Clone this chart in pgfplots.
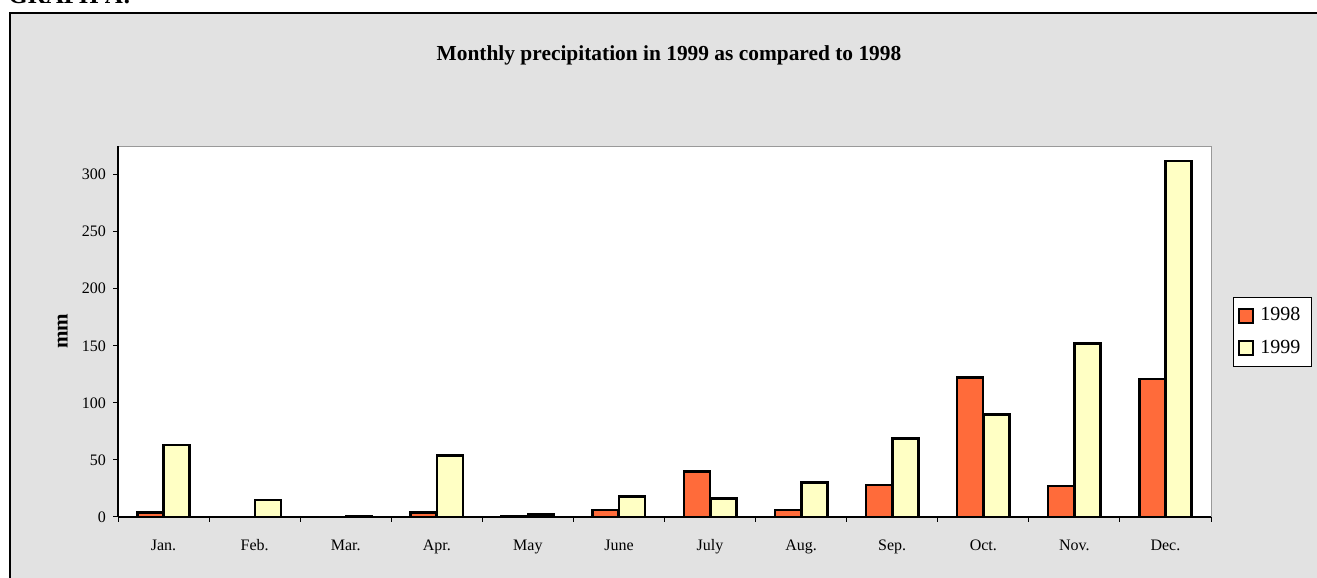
\documentclass[border=0pt]{standalone}
\usepackage{fontspec}
\setmainfont{Liberation Serif}
\usepackage{pgfplots}
\pgfplotsset{compat=1.18}
\definecolor{c98}{HTML}{FF6B3A}
\definecolor{c99}{HTML}{FFFFC4}
\definecolor{bg}{HTML}{E2E2E2}
\begin{document}
\begin{tikzpicture}
\useasboundingbox (0pt,0pt) rectangle (658.5pt,289pt);
\clip (0pt,0pt) rectangle (658.5pt,289pt);
\fill[bg] (5pt,-10pt) rectangle (670pt,282.5pt);
\draw[black, line width=0.8pt] (5pt,-10pt) rectangle (670pt,282.5pt);
\node[anchor=base west, inner sep=0pt, font=\fontsize{12.5}{14}\selectfont\bfseries] at (4pt,287pt) {GRAPH A:};
\node[anchor=center, inner sep=0pt, font=\fontsize{10.7}{12}\selectfont\bfseries] at (334.5pt,261.5pt) {Monthly precipitation in 1999 as compared to 1998};
\begin{axis}[
  at={(59pt,30.5pt)}, anchor=south west,
  scale only axis, width=546.5pt, height=185.5pt,
  xmin=-0.5, xmax=11.5, ymin=0, ymax=325,
  axis background/.style={fill=white, draw=gray!80},
  axis x line*=bottom, axis y line*=left,
  axis line style={-, black, line width=0.6pt},
  xtick={-0.5,0.5,...,11.5},
  xticklabels={Jan.,Feb.,Mar.,Apr.,May,June,July,Aug.,Sep.,Oct.,Nov.,Dec.},
  x tick label as interval,
  ytick={0,50,...,300},
  tick align=outside, major tick length=2.5pt,
  tick style={black, line width=0.5pt},
  /pgf/number format/assume math mode=true,
  ticklabel style={font=\fontsize{8}{9.6}\selectfont},
  xticklabel style={yshift=-3.2pt, text height=1.6ex, text depth=0.3ex},
  ylabel={mm},
  ylabel style={at={(axis description cs:-0.0506,0.5)}, anchor=center, font=\fontsize{10.5}{12}\selectfont\bfseries},
  legend style={at={(1.0201,0.593)}, anchor=north west, draw=black, line width=0.5pt, fill=white,
    font=\fontsize{10}{12}\selectfont, row sep=4pt, inner xsep=2.5pt, inner ysep=3pt,
    /tikz/every even column/.append style={column sep=1.5pt},
    nodes={inner xsep=3pt}},
  legend cell align=left,
]
\addplot[ybar, bar width=0.285, bar shift=-0.145, fill=c98, draw=black, line width=1.3pt,
  legend image code/.code={\draw[fill=c98, draw=black, line width=1pt] (0pt,-3.5pt) rectangle (7pt,3.5pt);}]
  coordinates {(0,4) (1,0) (2,0) (3,4) (4,1) (5,6) (6,40) (7,6) (8,28) (9,122) (10,27) (11,121)};
\addplot[ybar, bar width=0.285, bar shift=0.145, fill=c99, draw=black, line width=1.3pt,
  legend image code/.code={\draw[fill=c99, draw=black, line width=1pt] (0pt,-3.5pt) rectangle (7pt,3.5pt);}]
  coordinates {(0,63) (1,15) (2,1) (3,54) (4,2) (5,18) (6,16) (7,30) (8,69) (9,90) (10,152) (11,312)};
\legend{1998,1999}
\end{axis}
\end{tikzpicture}
\end{document}
